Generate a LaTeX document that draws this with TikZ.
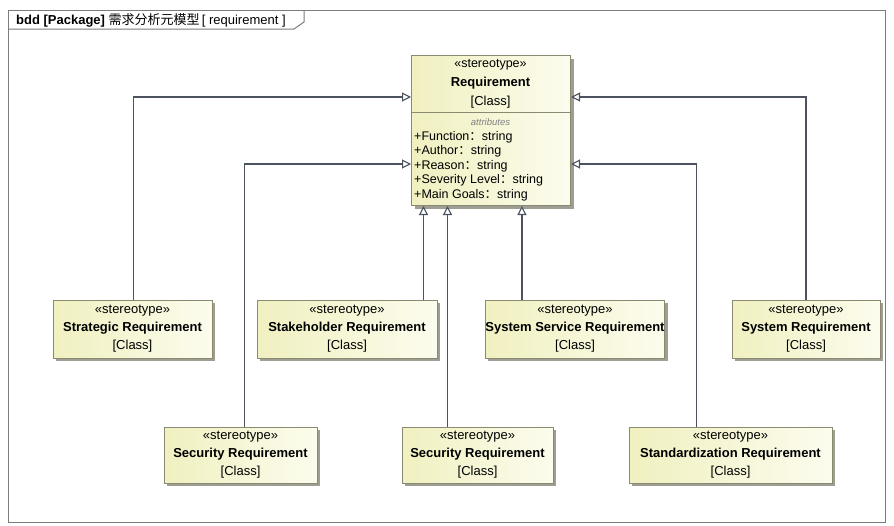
\documentclass[tikz,border=0pt]{standalone}
\usepackage{fontspec}
\setmainfont{Liberation Sans}
\newfontfamily\cjk{Noto Sans CJK SC}
\usetikzlibrary{arrows.meta,shadows}

\definecolor{boxline}{HTML}{8A8A70}
\definecolor{clsL}{HTML}{F0F0C0}
\definecolor{clsR}{HTML}{FCFCEE}
\definecolor{shadowgray}{HTML}{9E9E94}
\definecolor{linec}{HTML}{4C525E}
\definecolor{framec}{HTML}{7C7C7C}

\tikzset{
  cls/.style={draw=boxline, line width=1pt, left color=clsL, right color=clsR,
    general shadow={fill=shadowgray, shadow xshift=3pt, shadow yshift=-3pt},
    align=center, inner sep=0pt, font=\fontsize{13}{18}\selectfont},
  lbl/.style={inner sep=0pt},
  gen/.style={draw=linec, line width=1.25pt,
    -{Triangle[open, fill=white, length=9pt, width=9pt, line width=1.1pt]}},
  frameline/.style={draw=framec, line width=1pt}
}

\begin{document}
\begin{tikzpicture}[x=1pt,y=-1pt]
\useasboundingbox (0,0) rectangle (894,525);
\fill[white] (0,0) rectangle (894,525);

% diagram frame with its name tab
\draw[frameline] (8,10) rectangle (885,522);
\draw[frameline] (8,29) -- (294,29) -- (304,22) -- (304,10);
\node[lbl, anchor=west, font=\fontsize{13}{14}\selectfont] (title) at (16,20)
  {\textbf{bdd [Package]} {\cjk 需求分析元模型}\,[ requirement ]};

% the general Requirement class
\node[cls, minimum width=159, minimum height=150, anchor=north west] (req) at (411,55) {};
\draw[boxline, line width=1pt] ([yshift=-57pt]req.north west) -- ([yshift=-57pt]req.north east);
\node[lbl, font=\fontsize{12.5}{14}\selectfont] (reqst) at (490.5,65) {«stereotype»};
\node[lbl, font=\bfseries\fontsize{13}{14}\selectfont] (reqname) at (490.5,83) {Requirement};
\node[lbl, font=\fontsize{13}{14}\selectfont] (reqkind) at (490.5,102) {[Class]};
\node[lbl, font=\itshape\fontsize{9.5}{10}\selectfont, text=gray] (attrhead) at (490.5,122) {attributes};
\node[lbl, anchor=west, align=left, font=\fontsize{12.5}{14.5}\selectfont] (attrs) at (414,166)
  {+Function{\cjk ：}string\\+Author{\cjk ：}string\\+Reason{\cjk ：}string\\+Severity Level{\cjk ：}string\\+Main Goals{\cjk ：}string};

% specialised requirement classes, upper row
\node[cls, minimum width=159, minimum height=58] (strat) at (132.5,329)
  {«stereotype»\\\textbf{Strategic Requirement}\\{}[Class]};
\node[cls, minimum width=180, minimum height=58] (stake) at (347,329)
  {«stereotype»\\\textbf{Stakeholder Requirement}\\{}[Class]};
\node[cls, minimum width=177, minimum height=58] (svc) at (575,329)
  {«stereotype»\\\textbf{System Service Requirement}\\{}[Class]};
\node[cls, minimum width=148, minimum height=58] (sysreq) at (806,329)
  {«stereotype»\\\textbf{System Requirement}\\{}[Class]};

% lower row
\node[cls, minimum width=153, minimum height=56] (secA) at (240.5,455)
  {«stereotype»\\\textbf{Security Requirement}\\{}[Class]};
\node[cls, minimum width=151, minimum height=56] (secB) at (477.5,455)
  {«stereotype»\\\textbf{Security Requirement}\\{}[Class]};
\node[cls, minimum width=203, minimum height=56] (std) at (730.5,455)
  {«stereotype»\\\textbf{Standardization Requirement}\\{}[Class]};

% generalisations
\draw[gen] ([xshift=81pt]strat.north west) |- ([yshift=-42pt]req.north west);
\draw[gen] ([xshift=81pt]secA.north west) |- ([yshift=-109pt]req.north west);
\draw[gen] (sysreq.north) |- ([yshift=-42pt]req.north east);
\draw[gen] ([xshift=68pt]std.north west) |- ([yshift=-109pt]req.north east);
\draw[gen] ([xshift=-14pt]stake.north east) coordinate (p1) -- (p1 |- req.south);
\draw[gen] ([xshift=46pt]secB.north west) coordinate (p2) -- (p2 |- req.south);
\draw[gen] ([xshift=37pt]svc.north west) coordinate (p3) -- (p3 |- req.south);
\end{tikzpicture}
\end{document}
